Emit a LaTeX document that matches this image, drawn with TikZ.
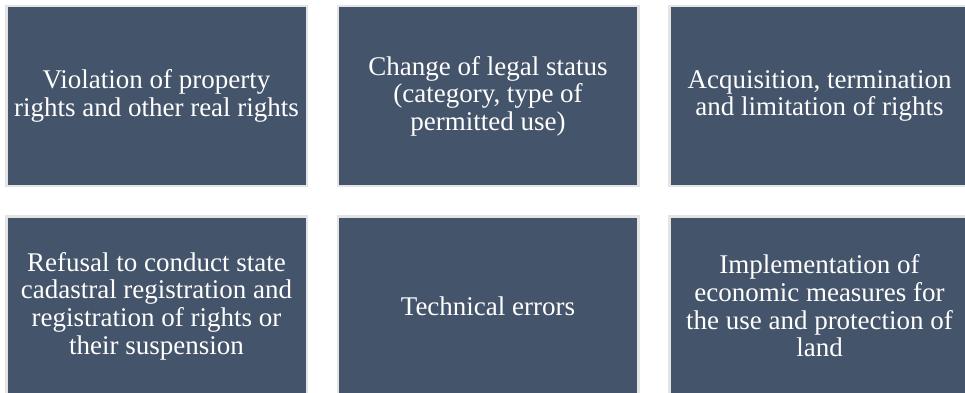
\documentclass[tikz,border=0pt]{standalone}
\usepackage{fontspec}
\setmainfont{Liberation Serif}
\usepackage{xcolor}
\definecolor{slate}{HTML}{44546A}
\definecolor{edge}{HTML}{E4E4E4}

\begin{document}
\begin{tikzpicture}[x=1pt,y=1pt,
    cell/.style={draw=edge,fill=slate,line width=2.5pt,inner sep=0pt,
      minimum width=300.5pt,minimum height=179.5pt,text=white,align=center,
      font=\fontsize{27}{27.6}\selectfont}]
            \useasboundingbox (0,0) rectangle (965,392);
            \clip (0,0) rectangle (965,392);
            % top row
            \node[cell] (viol) at (156.5,296) {Violation of property\\rights and other real rights};
            \node[cell] (status) at (488,296) {Change of legal status\\(category, type of\\permitted use)};
            \node[cell] (acq) at (819.5,296) {Acquisition, termination\\and limitation of rights};
            % bottom row
            \node[cell] (refusal) at (156.5,86) {Refusal to conduct state\\cadastral registration and\\registration of rights or\\their suspension};
            \node[cell] (errors) at (488,86) {Technical errors};
            \node[cell] (econ) at (819.5,86) {Implementation of\\economic measures for\\the use and protection of\\land};
\end{tikzpicture}
\end{document}
